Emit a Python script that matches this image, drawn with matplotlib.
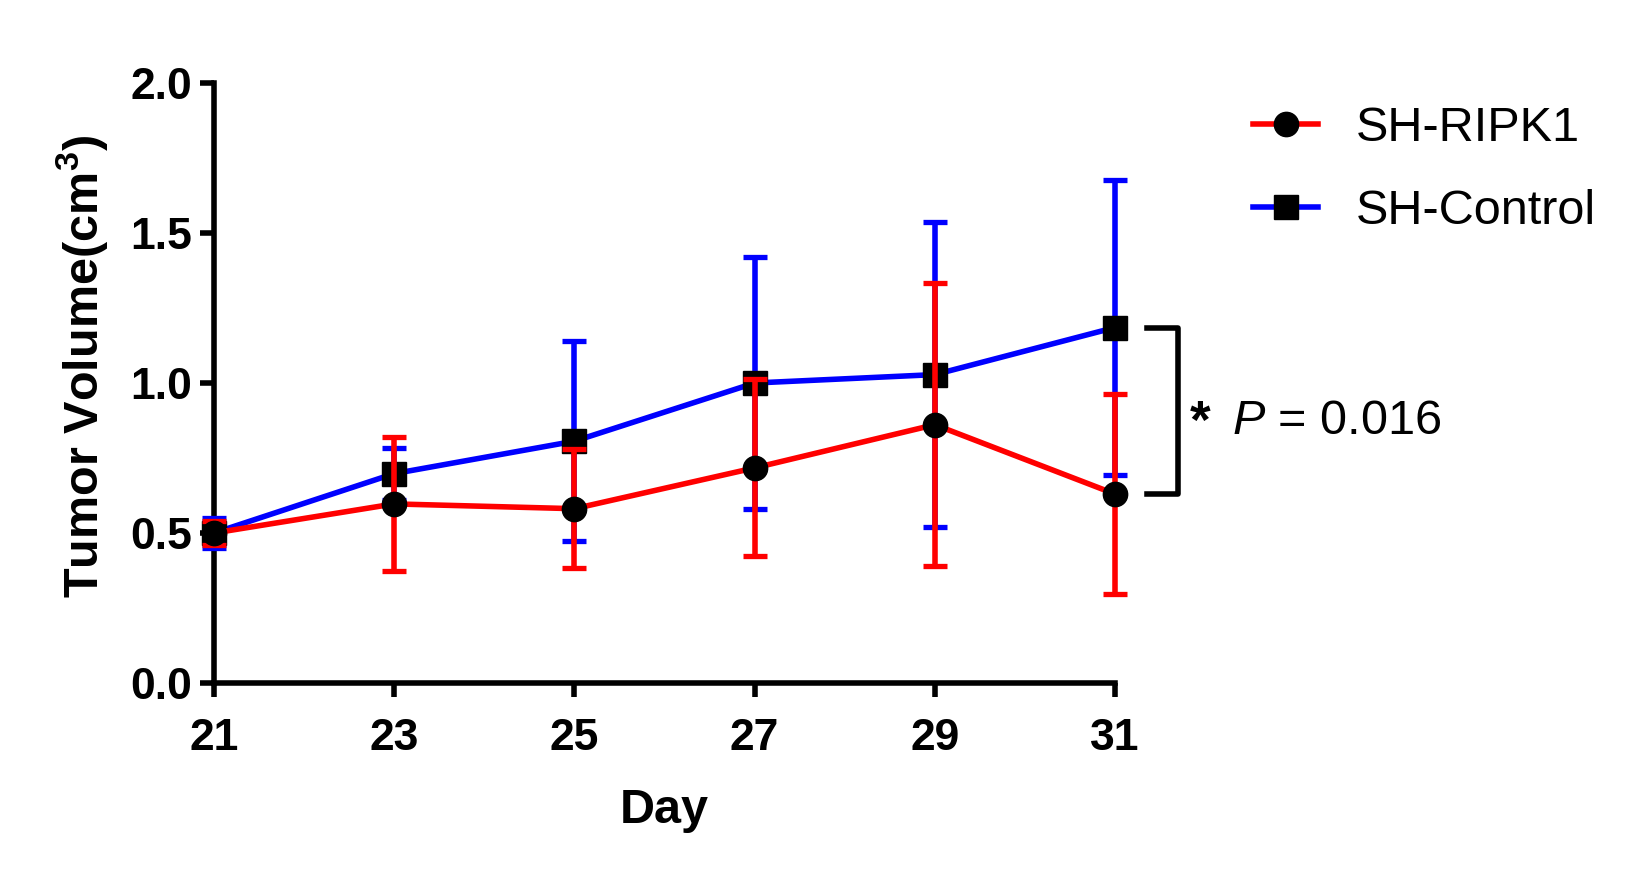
# Tumor volume growth curve, SH-RIPK1 vs SH-Control

import numpy as np
import matplotlib
matplotlib.use('Agg')
import matplotlib.pyplot as plt

days = [21, 23, 25, 27, 29, 31]
ripk1_mean = [0.50, 0.597, 0.581, 0.717, 0.861, 0.630]
ripk1_sem = [0.04, 0.224, 0.199, 0.295, 0.471, 0.332]
control_mean = [0.50, 0.698, 0.806, 1.00, 1.028, 1.185]
control_sem = [0.05, 0.087, 0.333, 0.420, 0.508, 0.492]
y_ticks = [0.0, 0.5, 1.0, 1.5, 2.0]
p_text = r'$\mathit{P}$ = 0.016'

plt.rcParams['font.family'] = ['Liberation Sans', 'DejaVu Sans']
plt.rcParams['mathtext.fontset'] = 'custom'
plt.rcParams['mathtext.rm'] = 'Liberation Sans'
plt.rcParams['mathtext.it'] = 'Liberation Sans:italic'
plt.rcParams['mathtext.bf'] = 'Liberation Sans:bold'

W, H = 1634, 876
fig = plt.figure(figsize=(W / 100, H / 100), dpi=100)
ax = fig.add_axes([214 / W, (H - 683) / H, 901 / W, 600 / H])

LW = 4.0


def draw_series(mean, sem, color, marker, label, z):
    cont = ax.errorbar(days, mean, yerr=sem, color=color, lw=LW,
                       elinewidth=LW, capsize=8.5, capthick=LW * 0.95,
                       marker=marker, ms=17.5, mfc='k', mec='k',
                       label=label, zorder=z)
    for art in cont.get_children():
        art.set_clip_on(False)
    return cont.lines[0]


h_ctrl = draw_series(control_mean, control_sem, '#0000FF', 's', 'SH-Control', 5)
h_ripk = draw_series(ripk1_mean, ripk1_sem, '#FF0000', 'o', 'SH-RIPK1', 6)

ax.set_xlim(21, 31)
ax.set_ylim(0, 2)
ax.set_xticks(days)
ax.set_yticks(y_ticks)
ax.set_yticklabels(['%.1f' % v for v in y_ticks])

for side in ['top', 'right']:
    ax.spines[side].set_visible(False)
for side in ['left', 'bottom']:
    ax.spines[side].set_linewidth(LW)
ax.tick_params(axis='both', width=LW, length=10, direction='out')
ax.tick_params(axis='x', labelsize=32, pad=15)
ax.tick_params(axis='y', labelsize=32, pad=6)
for lab in ax.get_xticklabels() + ax.get_yticklabels():
    lab.set_fontweight('bold')

ax.set_xlabel('Day', fontsize=35, fontweight='bold')
ax.xaxis.set_label_coords(0.5, -0.212)
ax.xaxis.label.set_va('center')
ax.set_ylabel(r'Tumor Volume(cm$^{\mathbf{3}}$)', fontsize=35, fontweight='bold')
ax.yaxis.set_label_coords(-0.1465, 0.528)
ax.yaxis.label.set_va('center')

# significance bracket at the last day
x_br = [days[-1] + 0.35, days[-1] + 0.7, days[-1] + 0.7, days[-1] + 0.35]
y_br = [control_mean[-1], control_mean[-1], ripk1_mean[-1], ripk1_mean[-1]]
ax.plot(x_br, y_br, color='k', lw=LW, clip_on=False)
y_mid = (control_mean[-1] + ripk1_mean[-1]) / 2
ax.text(days[-1] + 0.83, y_mid - 0.045, '*', fontsize=38, fontweight='bold',
        ha='left', va='center')
ax.text(days[-1] + 1.3, y_mid - 0.035, p_text, fontsize=35,
        ha='left', va='center')

fig.legend([h_ripk, h_ctrl], ['SH-RIPK1', 'SH-Control'],
           loc='upper left', bbox_to_anchor=(1253 / W, 1 - 106 / H),
           frameon=False, fontsize=35, handlelength=1.34,
           handletextpad=0.78, labelspacing=0.78, borderpad=0,
           borderaxespad=0)

fig.savefig('out.png', dpi=100)
